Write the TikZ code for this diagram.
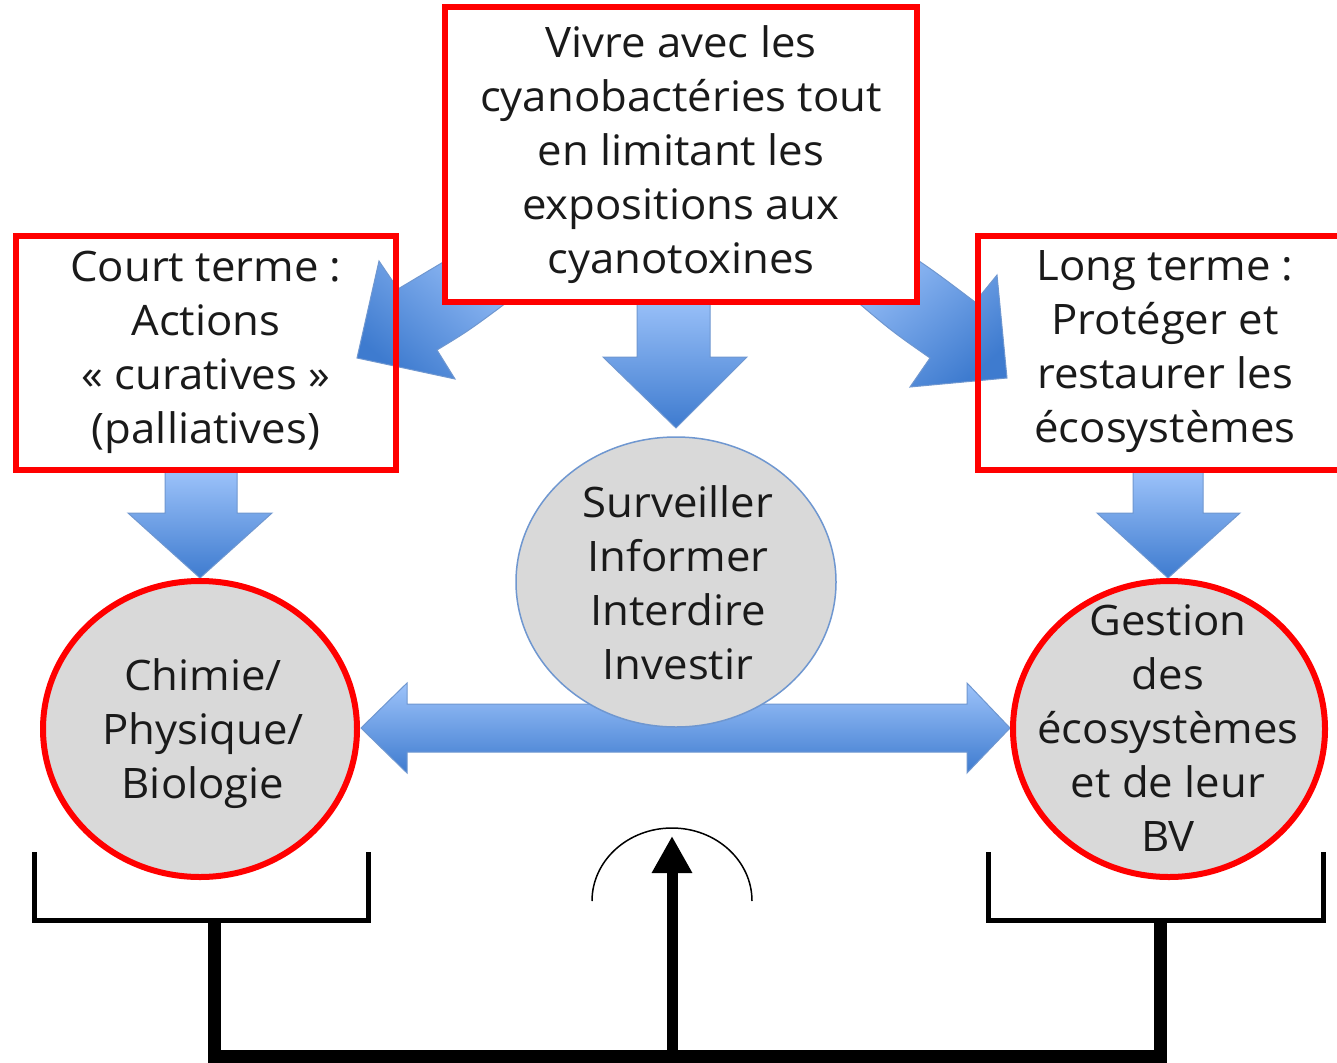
\documentclass[tikz,border=0pt]{standalone}
\usepackage{fontspec}
\setmainfont[FakeStretch=1.04]{Open Sans}
\usetikzlibrary{arrows.meta,shapes.geometric}
\definecolor{redb}{HTML}{FF0000}
\definecolor{lb}{HTML}{9DC3FA}
\definecolor{db}{HTML}{3E7BCF}
\definecolor{edgeb}{HTML}{6F97D0}
\definecolor{grayf}{HTML}{D9D9D9}
\definecolor{txt}{HTML}{1A1A1A}
\begin{document}
\begin{tikzpicture}[x=1pt,y=-1pt,
  blockarrow/.style={draw=edgeb, line width=1pt, top color=lb, bottom color=db},
  redbox/.style={draw=redb, line width=6pt, rectangle, inner sep=0pt},
  lbl/.style={font=\fontsize{42}{54}\selectfont, text=txt, align=center, inner sep=0pt},
  circ/.style={ellipse, fill=grayf, inner sep=0pt},
  bracket/.style={draw=black, line width=5pt},
  stem/.style={draw=black, line width=13pt}]
\useasboundingbox (0,0) rectangle (1337,1062);
\fill[white] (0,0) rectangle (1337,1062);

% curved block arrows (behind top box)
\path[draw=edgeb, line width=1pt, top color=lb, bottom color=db, shading angle=-40]
  (480,241) .. controls (455,255) .. (398,289) -- (379,261) -- (357,358) -- (455,379) -- (437,350)
  .. controls (470,330) .. (530,285) -- cycle;
\path[draw=edgeb, line width=1pt, top color=lb, bottom color=db, shading angle=40]
  (890,242) .. controls (930,268) .. (975,302) -- (997,275) -- (1007,378) -- (910,387) -- (930,358)
  .. controls (890,330) .. (840,287) -- cycle;

% straight down arrows
\path[blockarrow] (637,295) -- (710,295) -- (710,357) -- (747,357) -- (676,428) -- (603,357) -- (637,357) -- cycle;
\path[blockarrow] (165,470) -- (237,470) -- (237,513) -- (272,513) -- (200,578) -- (128,513) -- (165,513) -- cycle;
\path[blockarrow] (1133,470) -- (1203,470) -- (1203,513) -- (1240,513) -- (1168,578) -- (1097,513) -- (1133,513) -- cycle;

% horizontal double arrow
\path[blockarrow] (361,728) -- (407,683) -- (407,704) -- (967,704) -- (967,683) -- (1010,728) -- (967,773) -- (967,752) -- (407,752) -- (407,773) -- cycle;

% boxes
\node (topbox) [redbox, fill=white, minimum width=472pt, minimum height=295pt] at (681,154.5) {};
\node (toptxt) [lbl] at (681,155) {Vivre avec les\\cyanobactéries tout\\en limitant les\\expositions aux\\cyanotoxines};
\node (leftbox) [redbox, minimum width=380pt, minimum height=234pt] at (206,353) {};
\node (lefttxt) [lbl] at (206,352) {Court terme :\\Actions\\« curatives »\\(palliatives)};
\node (rightbox) [redbox, minimum width=372pt, minimum height=234pt] at (1164,353) {};
\node (righttxt) [lbl] at (1165,352) {Long terme :\\Protéger et\\restaurer les\\écosystèmes};

% ellipses
\node (cell) [circ, draw=edgeb, line width=1.5pt, minimum width=320pt, minimum height=290pt] at (676,582) {};
\node (celltxt) [lbl] at (678,583) {Surveiller\\Informer\\Interdire\\Investir};
\node (lcirc) [circ, draw=redb, line width=6pt, minimum width=314pt, minimum height=296pt] at (200,729) {};
\node (lcirctxt) [lbl] at (203,734) {Chimie/\\Physique/\\Biologie};
\node (rcirc) [circ, draw=redb, line width=6pt, minimum width=312pt, minimum height=296pt] at (1169,729) {};
\node (rcirctxt) [lbl] at (1168,728) {Gestion\\des\\écosystèmes\\et de leur\\BV};

% brackets
\coordinate (lbA) at (34,852);
\coordinate (lbB) at (34,920);
\coordinate (lbC) at (368,920);
\coordinate (lbD) at (368,852);
\coordinate (rbA) at (988,852);
\coordinate (rbB) at (988,920);
\coordinate (rbC) at (1323,920);
\coordinate (rbD) at (1323,852);
\draw[bracket] (lbA) -- (lbB) -- (lbC) -- (lbD);
\draw[bracket] (rbA) -- (rbB) -- (rbC) -- (rbD);
\coordinate (lstem) at (214,918);
\coordinate (rstem) at (1160,918);
\coordinate (lbot) at (214,1056);
\coordinate (rbot) at (1160,1056);
\draw[stem] (lstem) -- (lbot) -- (rbot) -- (rstem);
\coordinate (cbot) at (672,1056);
\coordinate (ctip) at (672,836);
\draw[line width=11pt, -{Triangle[width=38pt,length=37pt]}] (cbot) -- (ctip);
\coordinate (arcL) at (592,901);
\draw[line width=1.5pt] (arcL) arc[start angle=180, end angle=0, x radius=80pt, y radius=73pt];
\end{tikzpicture}
\end{document}
